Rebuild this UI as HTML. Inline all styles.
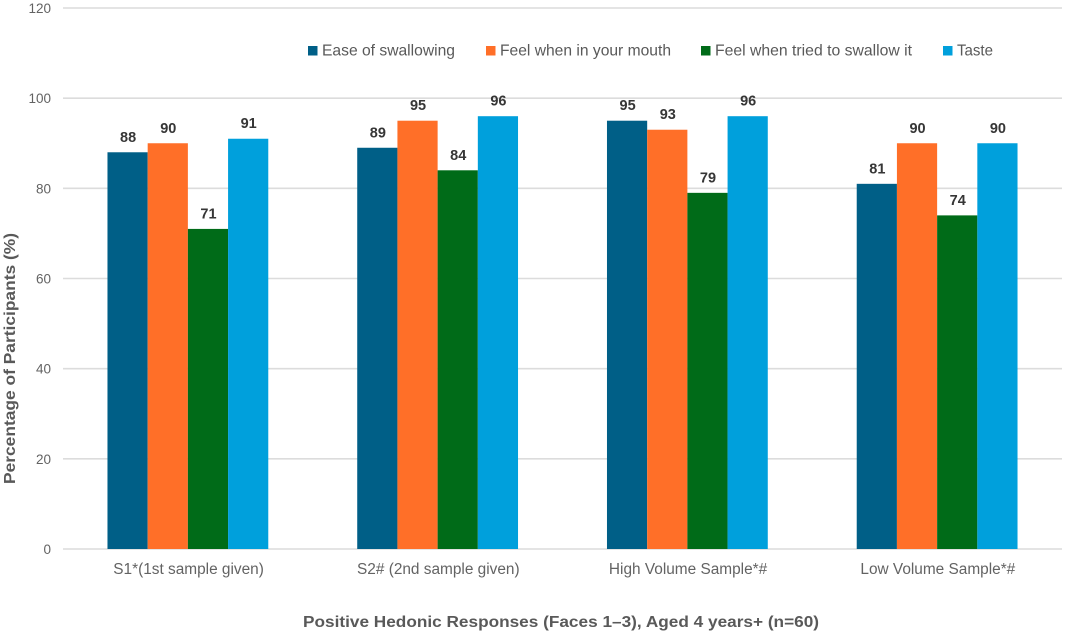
<!DOCTYPE html>
<html lang="en">
<head>
<meta charset="utf-8">
<title>Positive Hedonic Responses</title>
<style>
html,body{margin:0;padding:0;background:#fff;width:1065px;height:634px;overflow:hidden}
svg{display:block}
text{font-family:"Liberation Sans",sans-serif}
</style>
</head>
<body>
<svg id="chart" xmlns="http://www.w3.org/2000/svg" width="1065" height="634" viewBox="0 0 1065 634">
  <rect width="1065" height="634" fill="#ffffff"/>
  <g id="grid"></g>
  <g id="yticks"></g>
  <g id="bars"></g>
  <g id="values"></g>
  <g id="xticks"></g>
  <g id="legend"></g>
  <text transform="translate(15,358.5) rotate(-90)" text-anchor="middle" font-size="16" font-weight="bold" fill="#595959" textLength="251" lengthAdjust="spacingAndGlyphs">Percentage of Participants (%)</text>
  <text x="561" y="627" text-anchor="middle" font-size="16" font-weight="bold" fill="#595959" textLength="516" lengthAdjust="spacingAndGlyphs">Positive Hedonic Responses (Faces 1–3), Aged 4 years+ (n=60)</text>
</svg>
<script>
const categories = ["S1*(1st sample given)", "S2# (2nd sample given)", "High Volume Sample*#", "Low Volume Sample*#"];
const seriesNames = ["Ease of swallowing", "Feel when in your mouth", "Feel when tried to swallow it", "Taste"];
const easeOfSwallowing = [88, 89, 95, 81];
const feelInMouth = [90, 95, 93, 90];
const feelWhenSwallowing = [71, 84, 79, 74];
const taste = [91, 96, 96, 90];
const yTickLabels = [0, 20, 40, 60, 80, 100, 120];

const allSeries = [easeOfSwallowing, feelInMouth, feelWhenSwallowing, taste];
const colors = ["#005f87", "#ff6f28", "#006b18", "#00a0dc"];
const SVG_NS = "http://www.w3.org/2000/svg";
const plotLeft = 63, plotRight = 1062, plotTop = 8, plotBottom = 549, yMax = 120;
const groupWidth = (plotRight - plotLeft) / categories.length;
const barWidth = 40.2;

function yScale(v) { return plotBottom - (v / yMax) * (plotBottom - plotTop); }
function xGroup(i) { return plotLeft + groupWidth * (i + 0.5); }
function xBar(g, s) { return xGroup(g) + (s - allSeries.length / 2) * barWidth; }
function make(tag, attrs, parent, txt) {
  const el = document.createElementNS(SVG_NS, tag);
  for (const k in attrs) el.setAttribute(k, attrs[k]);
  if (txt !== undefined) el.textContent = txt;
  parent.appendChild(el);
  return el;
}

const gGrid = document.getElementById("grid");
const gY = document.getElementById("yticks");
const gBars = document.getElementById("bars");
const gVals = document.getElementById("values");
const gX = document.getElementById("xticks");
const gLegend = document.getElementById("legend");

yTickLabels.forEach(function (t) {
  const line = make("line", {x1: plotLeft, x2: plotRight, y1: yScale(t), y2: yScale(t), stroke: "#dcdcdc", "stroke-width": 1.6}, gGrid);
  
  
  const label = make("text", {x: 51, y: yScale(t) + 5, "text-anchor": "end", "font-size": 13.5, fill: "#636363"}, gY, t);
  
  
});

allSeries.forEach(function (vals, s) {
  vals.forEach(function (v, g) {
    const bar = make("rect", {x: xBar(g, s), y: yScale(v), width: barWidth, height: plotBottom - yScale(v), fill: colors[s]}, gBars);
    
    
    const val = make("text", {x: xBar(g, s) + barWidth / 2 + 0.5, y: yScale(v) - 10.5, "text-anchor": "middle", "font-size": 14.5, "font-weight": "bold", fill: "#363636"}, gVals, v);
    
    
  });
});

categories.forEach(function (c, i) {
  const label = make("text", {x: xGroup(i) + 0.7, y: 574, "text-anchor": "middle", "font-size": 15.4, fill: "#636363"}, gX, c);
  
  
});

const legendStart = [308, 486, 701, 943];
const legendTextWidth = [133, 171, 197, 36];
seriesNames.forEach(function (n, i) {
  const swatch = make("rect", {x: legendStart[i], y: 46, width: 9.5, height: 9.5, fill: colors[i]}, gLegend);
  
  
  const label = make("text", {x: legendStart[i] + 14, y: 55.5, "font-size": 16, fill: "#595959", textLength: legendTextWidth[i], lengthAdjust: "spacingAndGlyphs"}, gLegend, n);
  
  
});
</script>
</body>
</html>
